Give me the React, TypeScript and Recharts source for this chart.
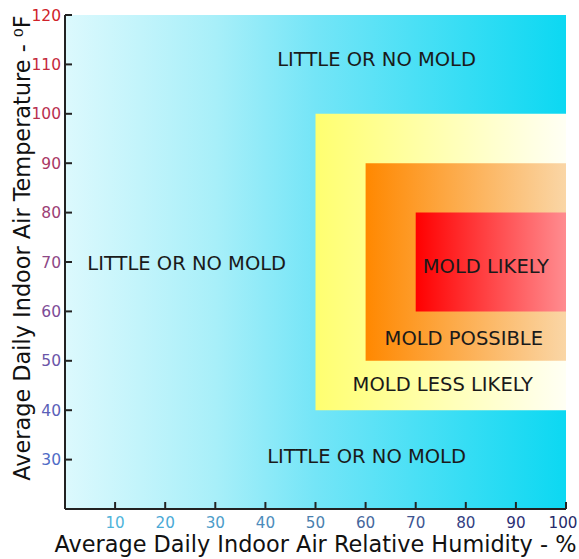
import { ComposedChart, XAxis, YAxis, ReferenceArea, Scatter } from 'recharts';

// zones: background, less likely, possible, likely
const zoneIds = ['bg', 'lessLikely', 'possible', 'likely'];
const zoneHumidityFrom = [0, 50, 60, 70];
const zoneHumidityTo = [100, 100, 100, 100];
const zoneTempFrom = [20, 40, 50, 60];
const zoneTempTo = [120, 100, 90, 80];

const labelText = [
  'LITTLE OR NO MOLD',
  'LITTLE OR NO MOLD',
  'LITTLE OR NO MOLD',
  'MOLD LIKELY',
  'MOLD POSSIBLE',
  'MOLD LESS LIKELY',
];
const labelHumidity = [62.2, 24.3, 60.2, 84, 79.6, 75.4];
const labelTemp = [111.1, 69.8, 30.7, 69.2, 54.6, 45.3];

const humidityTicks = [10, 20, 30, 40, 50, 60, 70, 80, 90, 100];
const humidityTickColors = ['#4fb4da', '#4aa9d6', '#4c9cc9', '#4d8cbb', '#4a7fae', '#45679c', '#3e5592', '#343f83', '#2c3075', '#262a6a'];
const tempTicks = [30, 40, 50, 60, 70, 80, 90, 100, 110, 120];
const tempTickColors = ['#4f6cc6', '#5a5fb8', '#6a55a8', '#7d4c97', '#8e4886', '#9c4075', '#aa3865', '#b93050', '#c52a3c', '#d0222a'];

const labelPoints = labelText.map((text, i) => ({ h: labelHumidity[i], t: labelTemp[i], text }));

const FONT = '"DejaVu Sans", Verdana, sans-serif';

const XTick = (props: any) => {
  const { x, y, payload } = props;
  const idx = humidityTicks.indexOf(payload.value);
  // keep the last label inside the page edge
  const shift = idx === humidityTicks.length - 1 ? -3 : 0;
  return (
    <g>
      <line x1={x} y1={y} x2={x} y2={y - 7} stroke="#222" strokeWidth={2} />
      <text x={x + shift} y={y + 19} textAnchor="middle" fontSize={15.2} fontFamily={FONT} fill={humidityTickColors[idx]}>
        {payload.value}
      </text>
    </g>
  );
};

const YTick = (props: any) => {
  const { x, y, payload } = props;
  const idx = tempTicks.indexOf(payload.value);
  return (
    <g>
      <line x1={x} y1={y} x2={x + 7} y2={y} stroke="#222" strokeWidth={2} />
      <text x={x - 4} y={y + 5.5} textAnchor="end" fontSize={15.5} fontFamily={FONT} fill={tempTickColors[idx]}>
        {payload.value}
      </text>
    </g>
  );
};

const ZoneLabel = (props: any) => {
  const { cx, cy, payload } = props;
  return (
    <text x={cx} y={cy} dy={7} textAnchor="middle" fontSize={19.5} fontFamily={FONT} fill="#1a1a1a">
      {payload.text}
    </text>
  );
};

const App = () => {
  return (
    <div style={{ position: 'absolute', left: 0, top: 0, background: '#fff' }}>
      <ComposedChart width={579} height={559} margin={{ top: 15, right: 13, left: 5, bottom: 0 }}>
        <defs>
          <linearGradient id="grad-bg" x1="0" y1="0" x2="1" y2="0">
            <stop offset="0%" stopColor="#dcf9fd" />
            <stop offset="30%" stopColor="#a8eff9" />
            <stop offset="50%" stopColor="#74e5f7" />
            <stop offset="100%" stopColor="#0cd8f2" />
          </linearGradient>
          <linearGradient id="grad-lessLikely" x1="0" y1="0" x2="1" y2="0">
            <stop offset="0%" stopColor="#ffff70" />
            <stop offset="100%" stopColor="#fffff4" />
          </linearGradient>
          <linearGradient id="grad-possible" x1="0" y1="0" x2="1" y2="0">
            <stop offset="0%" stopColor="#ff8800" />
            <stop offset="100%" stopColor="#fad6a6" />
          </linearGradient>
          <linearGradient id="grad-likely" x1="0" y1="0" x2="1" y2="0">
            <stop offset="0%" stopColor="#ff0000" />
            <stop offset="100%" stopColor="#ff8c90" />
          </linearGradient>
        </defs>
        <XAxis
          type="number"
          dataKey="h"
          domain={[0, 100]}
          ticks={humidityTicks}
          height={50}
          tickSize={0}
          tickMargin={0}
          tickLine={false}
          tick={<XTick />}
          axisLine={{ stroke: '#222', strokeWidth: 2 }}
          label={{
            content: (p: any) => {
              const vb = p.viewBox;
              return (
                <text x={vb.x + vb.width / 2} y={vb.y + 43} textAnchor="middle" fontSize={22.4} fontFamily={FONT} fill="#111">
                  Average Daily Indoor Air Relative Humidity - %
                </text>
              );
            },
          }}
        />
        <YAxis
          type="number"
          dataKey="t"
          domain={[20, 120]}
          ticks={tempTicks}
          width={60}
          tickSize={0}
          tickMargin={0}
          tickLine={false}
          tick={<YTick />}
          axisLine={{ stroke: '#222', strokeWidth: 2 }}
          label={{
            content: () => (
              <text x={22} y={248} transform="rotate(-90 22 248)" dy={8} textAnchor="middle" fontSize={22.4} fontFamily={FONT} fill="#111">
                Average Daily Indoor Air Temperature - ⁰F
              </text>
            ),
          }}
        />
        {zoneIds.map((id, i) => (
          <ReferenceArea
            key={id}
            x1={zoneHumidityFrom[i]}
            x2={zoneHumidityTo[i]}
            y1={zoneTempFrom[i]}
            y2={zoneTempTo[i]}
            fill={`url(#grad-${id})`}
            fillOpacity={1}
            stroke="none"
          />
        ))}
        <Scatter data={labelPoints} dataKey="t" shape={<ZoneLabel />} isAnimationActive={false} />
      </ComposedChart>
    </div>
  );
};

export default App;
